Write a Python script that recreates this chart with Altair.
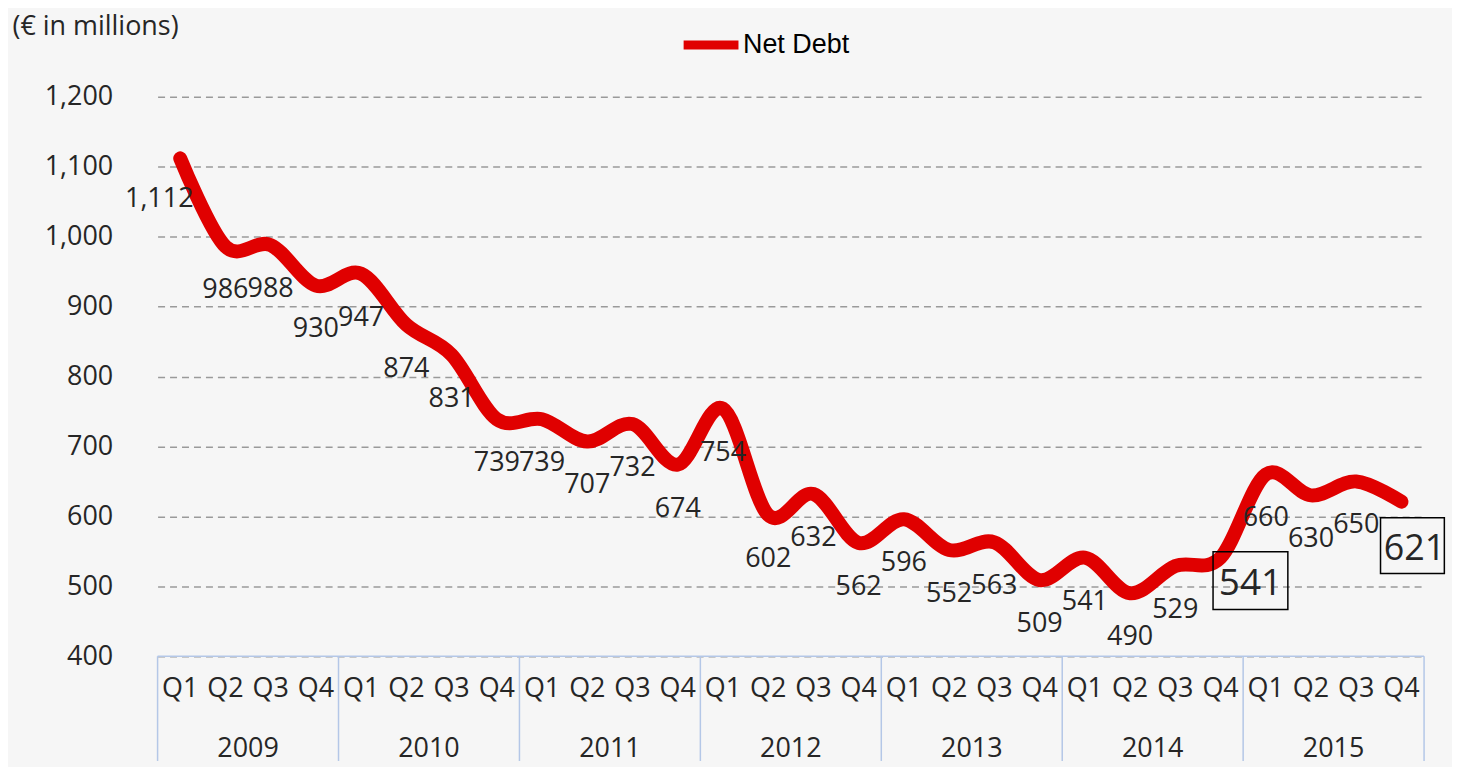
import altair as alt
import pandas as pd

years = ["2009", "2010", "2011", "2012", "2013", "2014", "2015"]
quarters = ["Q1", "Q2", "Q3", "Q4"]
net_debt = [1112, 986, 988, 930,
            947, 874, 831, 739,
            739, 707, 732, 674,
            754, 602, 632, 562,
            596, 552, 563, 509,
            541, 490, 529, 541,
            660, 630, 650, 621]
y_ticks = [400, 500, 600, 700, 800, 900, 1000, 1100, 1200]
boxed = [("2014", "Q4"), ("2015", "Q4")]

rows = []
for yi, yr in enumerate(years):
    for qi, q in enumerate(quarters):
        i = yi * 4 + qi
        rows.append(dict(idx=i + 0.5, year=yr, quarter=q, value=net_debt[i],
                         label=f"{net_debt[i]:,}", series="Net Debt"))
df = pd.DataFrame(rows)
year_df = pd.DataFrame({"year": years, "mid": [i * 4 + 2 for i in range(len(years))]})
bounds_df = pd.DataFrame({"b": [i * 4 for i in range(len(years) + 1)]})
axis_df = pd.DataFrame({"x0": [0], "x1": [len(net_debt)]})

keys = list(zip(df["year"], df["quarter"]))
first_df = df.iloc[:1].reset_index(drop=True)
plain_df = df[[(k not in boxed) for k in keys]].iloc[1:].reset_index(drop=True)
box1_df = df[[(k == boxed[0]) for k in keys]].reset_index(drop=True)
box2_df = df[[(k == boxed[1]) for k in keys]].reset_index(drop=True)

FONT = "Open Sans"
TXT = "#262626"
N = len(net_debt)


def X(field):
    return alt.X(field, scale=alt.Scale(domain=[0, N], nice=False, zero=False), axis=None)


def Y(field):
    return alt.Y(field, scale=alt.Scale(domain=[400, 1200], nice=False, zero=False))


line = alt.Chart(df).mark_line(interpolate="cardinal", strokeWidth=14,
                               strokeCap="round").encode(
    x=X("idx:Q"),
    y=alt.Y("value:Q", scale=alt.Scale(domain=[400, 1200], nice=False, zero=False),
            axis=alt.Axis(values=y_ticks, format=",d", domain=False, ticks=False,
                          grid=True, gridDash=[7, 5], gridColor="#9a9a9a", gridWidth=1.5,
                          labelFont=FONT, labelFontSize=27, labelColor=TXT, labelPadding=45,
                          title="(€ in millions)", titleAngle=0, titleX=-146, titleY=-70,
                          titleAlign="left", titleBaseline="middle", titleFont=FONT,
                          titleFontSize=27, titleFontWeight="normal", titleColor=TXT)),
    color=alt.Color("series:N", scale=alt.Scale(domain=["Net Debt"], range=["#e00000"]),
                    legend=alt.Legend(title=None, orient="none", legendX=523, legendY=-84,
                                      symbolType="stroke", symbolStrokeWidth=9,
                                      symbolSize=3025, labelFont="Liberation Sans",
                                      labelFontSize=27, labelColor="#000000",
                                      labelOffset=0)),
)


def labels(data, dx=0, dy=44, size=27):
    return alt.Chart(data).mark_text(font=FONT, fontSize=size, color=TXT,
                                     dx=dx, dy=dy, baseline="middle").encode(
        x=X("idx:Q"), y=Y("value:Q"), text="label:N")


lab_plain = labels(plain_df)
lab_first = labels(first_df, dx=-21, dy=41)
lab_box1 = labels(box1_df, dx=30, dy=26, size=37)
lab_box2 = labels(box2_df, dx=13, dy=47, size=36)


def box(data, dx, dy, w, h):
    shape = f"M{-w/2},{-h/2}L{w/2},{-h/2}L{w/2},{h/2}L{-w/2},{h/2}Z"
    return alt.Chart(data).mark_point(shape=shape, size=4, filled=False, color="#000000",
                                      strokeWidth=1.5, opacity=1, xOffset=dx,
                                      yOffset=dy).encode(x=X("idx:Q"), y=Y("value:Q"))


box1 = box(box1_df, 30, 23, 75, 58)
box2 = box(box2_df, 11, 44, 64, 56)

axis_line = alt.Chart(axis_df).mark_rule(color="#b4c7e7", strokeWidth=1.5).encode(
    x=X("x0:Q"), x2="x1:Q", y=alt.value(561))
seps = alt.Chart(bounds_df).mark_rule(color="#b4c7e7", strokeWidth=1.5).encode(
    x=X("b:Q"), y=alt.value(561), y2=alt.value(666))

q_labels = alt.Chart(df).mark_text(font=FONT, fontSize=27, color=TXT,
                                   baseline="middle").encode(
    x=X("idx:Q"), y=alt.value(594), text="quarter:N")
yr_labels = alt.Chart(year_df).mark_text(font=FONT, fontSize=27, color=TXT,
                                         baseline="middle").encode(
    x=X("mid:Q"), y=alt.value(654), text="year:N")

chart = alt.layer(axis_line, seps, q_labels, yr_labels, line, lab_plain, lab_first,
                  lab_box1, lab_box2, box1, box2).properties(
    width=1270, height=561, padding=4, background="#f6f6f6",
).configure_view(strokeWidth=0)

chart.save("out.html", embed_options={"renderer": "svg", "actions": False})
